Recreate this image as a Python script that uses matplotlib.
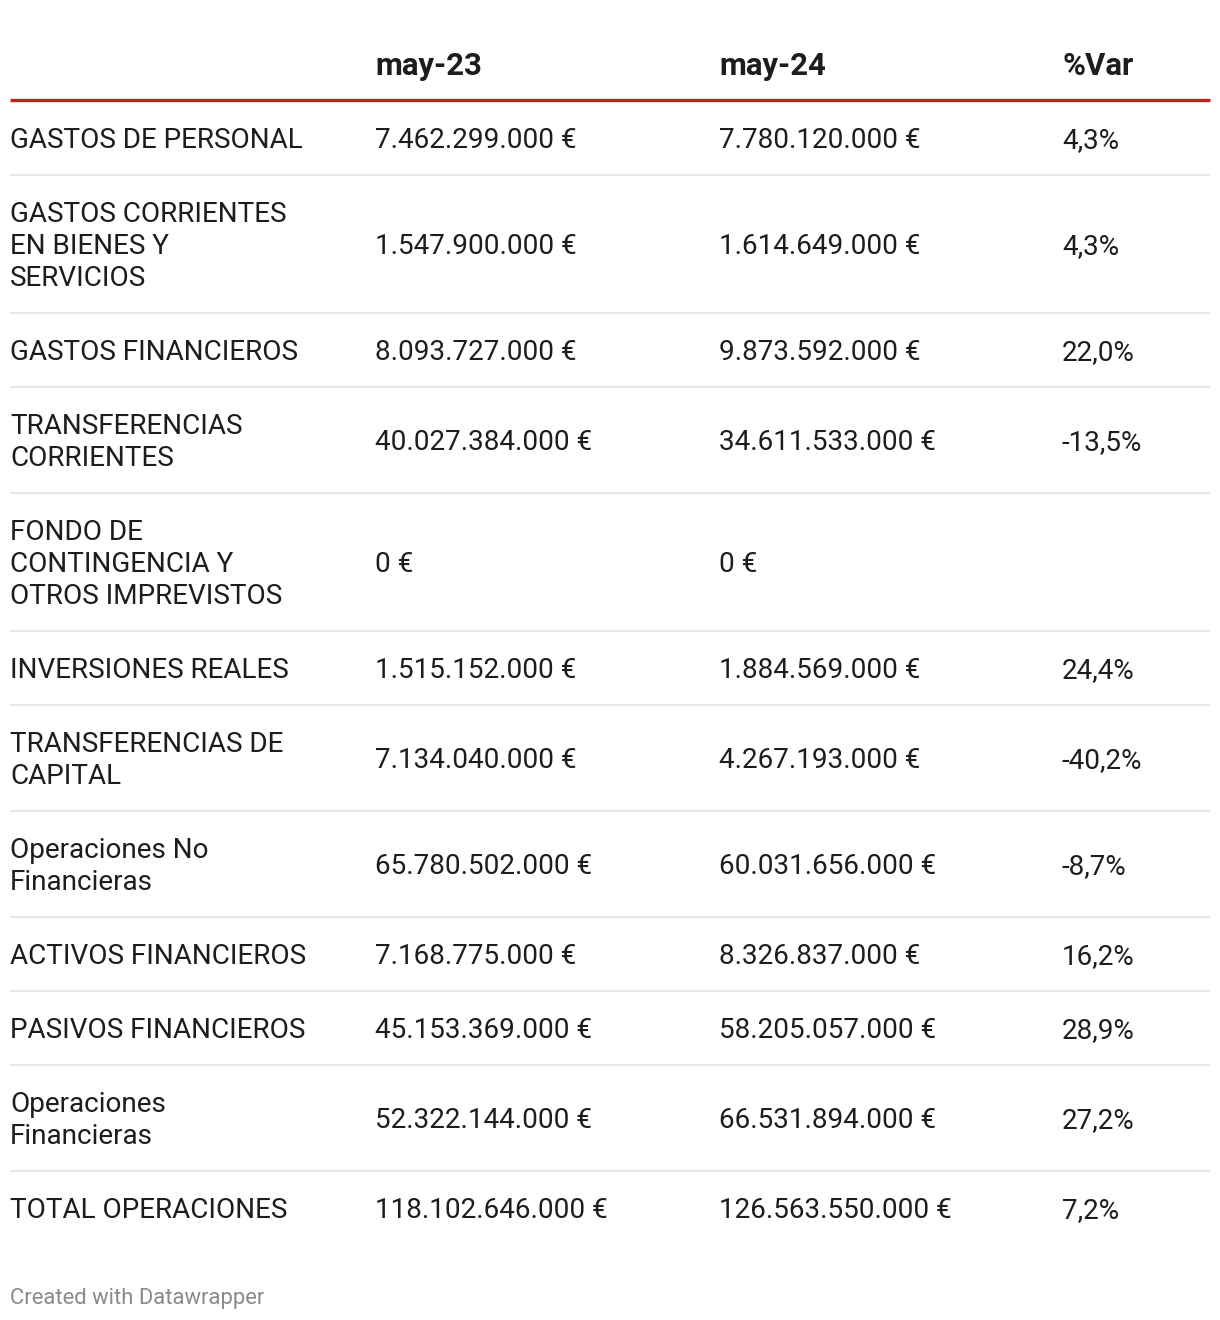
import matplotlib
matplotlib.use("Agg")
import matplotlib.pyplot as plt

# table content
labels = [
    "GASTOS DE PERSONAL",
    "GASTOS CORRIENTES\nEN BIENES Y\nSERVICIOS",
    "GASTOS FINANCIEROS",
    "TRANSFERENCIAS\nCORRIENTES",
    "FONDO DE\nCONTINGENCIA Y\nOTROS IMPREVISTOS",
    "INVERSIONES REALES",
    "TRANSFERENCIAS DE\nCAPITAL",
    "Operaciones No\nFinancieras",
    "ACTIVOS FINANCIEROS",
    "PASIVOS FINANCIEROS",
    "Operaciones\nFinancieras",
    "TOTAL OPERACIONES",
]
may23 = ["7.462.299.000 €", "1.547.900.000 €", "8.093.727.000 €", "40.027.384.000 €",
         "0 €", "1.515.152.000 €", "7.134.040.000 €", "65.780.502.000 €",
         "7.168.775.000 €", "45.153.369.000 €", "52.322.144.000 €", "118.102.646.000 €"]
may24 = ["7.780.120.000 €", "1.614.649.000 €", "9.873.592.000 €", "34.611.533.000 €",
         "0 €", "1.884.569.000 €", "4.267.193.000 €", "60.031.656.000 €",
         "8.326.837.000 €", "58.205.057.000 €", "66.531.894.000 €", "126.563.550.000 €"]
var = ["4,3%", "4,3%", "22,0%", "-13,5%", "", "24,4%", "-40,2%", "-8,7%",
       "16,2%", "28,9%", "27,2%", "7,2%"]
headers = ["", "may-23", "may-24", "%Var"]

plt.rcParams["font.family"] = ["Roboto", "DejaVu Sans"]

W, H = 1220, 1320
fig = plt.figure(figsize=(W / 100, H / 100), dpi=100)
ax = fig.add_axes([0, 0, 1, 1])
ax.set_xlim(0, W)
ax.set_ylim(H, 0)
ax.axis("off")

col_x = [10, 375, 719, 1062]
fs = 20.1
line_h = 32        # px between wrapped lines
pad = 37           # px above/below text block
base_off = 10      # baseline below the visual centre
text_col = "#1d1d1d"

# header
for x, h in zip(col_x, headers):
    ax.text(x, 64 + 11, h, fontsize=22.4, fontweight="bold", color=text_col,
            ha="left", va="baseline")
ax.plot([10, 1210], [100, 100], color="#c71e1d", lw=2.4, solid_capstyle="butt")

y = 101
for i, lab in enumerate(labels):
    lines = lab.split("\n")
    n = len(lines)
    h = 2 * pad + (n - 1) * line_h
    yc = y + h / 2
    for k, ln in enumerate(lines):
        ax.text(col_x[0], yc + (k - (n - 1) / 2) * line_h + base_off, ln,
                fontsize=fs, color=text_col, ha="left", va="baseline")
    for x, val in zip(col_x[1:], [may23[i], may24[i], var[i]]):
        ax.text(x, yc + base_off, val, fontsize=fs, color=text_col,
                ha="left", va="baseline")
    y += h
    if i < len(labels) - 1:
        ax.plot([10, 1210], [y, y], color="#e8e8e8", lw=1.5, solid_capstyle="butt")

ax.text(10, 1304, "Created with Datawrapper", fontsize=15.8, color="#8a8a8a",
        ha="left", va="baseline")

fig.savefig("out.png", dpi=100, facecolor="white")
